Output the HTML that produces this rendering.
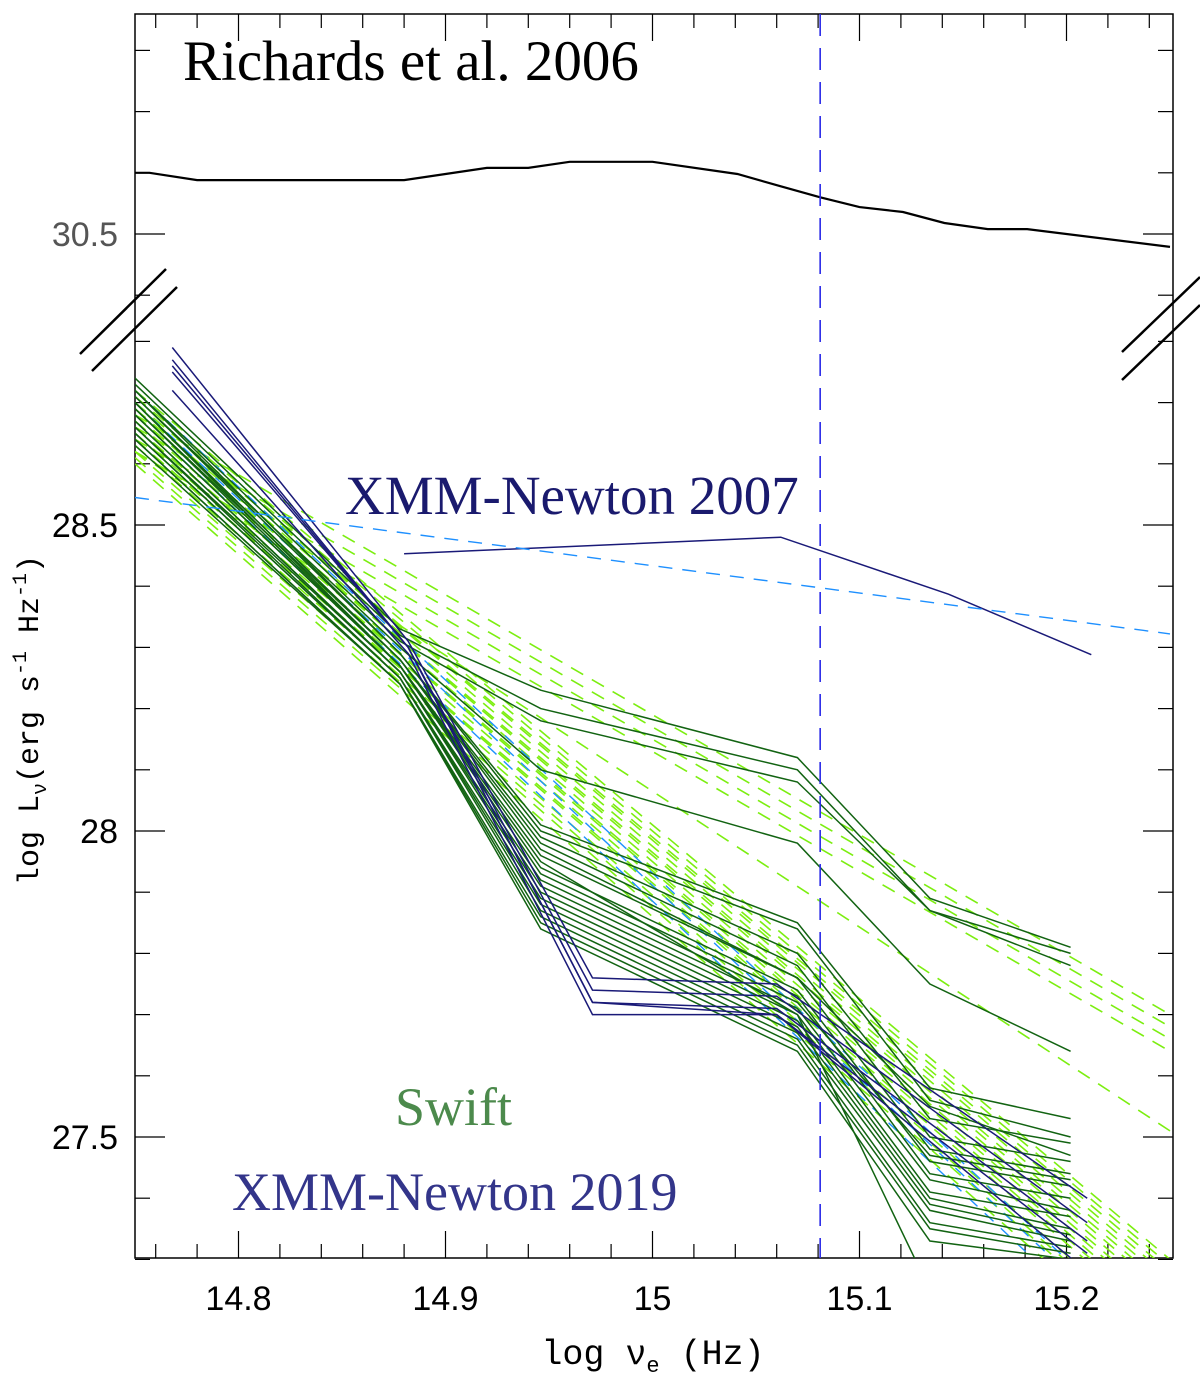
<!DOCTYPE html>
<html><head><meta charset="utf-8"><style>
body{margin:0;background:#fff;}
svg{display:block;}
</style></head><body>
<svg id="chart" width="1200" height="1385" xmlns="http://www.w3.org/2000/svg">
<defs><clipPath id="clipBot"><rect x="135" y="330" width="1038" height="928"/></clipPath>
<clipPath id="clipTop"><rect x="135" y="14" width="1038" height="285"/></clipPath></defs>
<g id="axes"></g>
<g id="series"></g>
<text x="183" y="80" font-family="Liberation Serif, serif" font-size="57" fill="#000">Richards et al. 2006</text>
<text x="345" y="514" font-family="Liberation Serif, serif" font-size="55" fill="#1a1a6e">XMM-Newton 2007</text>
<text x="395" y="1125" font-family="Liberation Serif, serif" font-size="54" fill="#4c8a4c">Swift</text>
<text x="232" y="1210" font-family="Liberation Serif, serif" font-size="54" fill="#33358a">XMM-Newton 2019</text>
<text x="653" y="1364" text-anchor="middle" font-family="Liberation Mono, monospace" font-size="35" fill="#000">log ν<tspan font-size="22" dy="8">e</tspan><tspan dy="-8"> (Hz)</tspan></text>
<text transform="translate(38,720) rotate(-90)" text-anchor="middle" font-family="Liberation Mono, monospace" font-size="30" fill="#000">log L<tspan font-size="20" dy="8">ν</tspan><tspan dy="-8">(erg s</tspan><tspan font-size="20" dy="-12">-1</tspan><tspan dy="12"> Hz</tspan><tspan font-size="20" dy="-12">-1</tspan><tspan dy="12">)</tspan></text>
</svg>
<script>
// ---- data ----
const xTicks=[14.8,14.9,15,15.1,15.2];
const xTickLabels=["14.8","14.9","15","15.1","15.2"];
const yTicksBot=[28.5,28,27.5];
const yTickLabelsBot=["28.5","28","27.5"];
const yTicksTop=[30.5];
const yTickLabelsTop=["30.5"];
const richX=[14.75,14.757,14.78,14.88,14.9,14.92,14.94,14.96,15.0,15.041,15.062,15.081,15.1,15.121,15.141,15.162,15.181,15.25];
const richY=[30.600,30.600,30.588,30.588,30.598,30.608,30.608,30.618,30.618,30.598,30.578,30.560,30.544,30.536,30.518,30.508,30.508,30.479];
const xmm07X=[14.88,15.062,15.143,15.212];
const xmm07Y=[28.453,28.480,28.387,28.288];
const refLineX=[14.75,15.25];
const refLineY=[28.545,28.322];
const vLineX=15.081;
const swiftX=[14.75,14.878,14.946,15.070,15.134,15.202];
const swiftY=[
[28.74,28.33,28.23,28.12,27.89,27.81],
[28.73,28.32,28.20,28.10,27.87,27.80],
[28.72,28.31,28.18,28.08,27.87,27.78],
[28.71,28.30,28.10,27.98,27.75,27.64],
[28.72,28.29,28.01,27.85,27.58,27.53],
[28.71,28.29,28.00,27.84,27.56,27.50],
[28.70,28.28,27.99,27.80,27.53,27.49],
[28.70,28.28,27.98,27.78,27.50,27.46],
[28.69,28.28,27.97,27.76,27.48,27.44],
[28.69,28.27,27.96,27.76,27.55,27.47],
[28.68,28.27,27.94,27.74,27.46,27.42],
[28.68,28.27,27.93,27.73,27.44,27.40],
[28.67,28.26,27.92,27.72,27.47,27.43],
[28.67,28.26,27.91,27.71,27.43,27.38],
[28.66,28.26,27.90,27.70,27.41,27.37],
[28.66,28.25,27.89,27.69,27.40,27.35],
[28.65,28.25,27.88,27.68,27.39,27.34],
[28.65,28.25,27.87,27.67,27.38,27.33],
[28.64,28.24,27.86,27.66,27.36,27.32],
[28.64,28.24,27.85,27.65,27.35,27.31],
[28.63,28.24,27.84,27.64,27.33,27.30],
[28.70,28.27,27.95,27.70,27.25,27.10]];
const xmm19X=[14.768,14.882,14.971,15.06,15.21];
const xmm19Y=[
[28.79,28.31,27.76,27.75,27.40],
[28.77,28.30,27.74,27.73,27.36],
[28.76,28.30,27.72,27.71,27.33],
[28.75,28.30,27.72,27.70,27.31],
[28.72,28.29,27.70,27.70,27.28]];
const modelX=[14.75,15.25];
const modelStart=[28.68,28.66,28.64,28.62,28.62,28.72,28.71,28.70,28.70,28.69,28.68,28.68,28.67,28.66,28.66,28.65,28.64,28.64,28.63,28.62,28.61,28.60];
const modelEnd=[27.70,27.68,27.66,27.64,27.51,27.30,27.29,27.28,27.27,27.26,27.25,27.24,27.23,27.22,27.21,27.20,27.19,27.18,27.16,27.15,27.14,27.12];
const blueStart=[28.72,28.70,28.68];
const blueEnd=[27.30,27.28,27.25];
const blueX=[14.75,15.2];

// ---- scales ----
const X=v=>135+(v-14.75)*2070;
const YB=v=>525-(v-28.5)*612;
const YT=v=>234-(v-30.5)*612;
const NS="http://www.w3.org/2000/svg";
const axes=document.getElementById('axes');
const ser=document.getElementById('series');
function mk(tag,parent){const e=document.createElementNS(NS,tag);parent.appendChild(e);return e;}
function poly(xs,ys,ys2,parent,color,w,dash){
  const e=mk('polyline',parent);
  e.setAttribute('points',xs.map((x,i)=>X(x).toFixed(1)+','+ys2(ys[i]).toFixed(1)).join(' '));
  e.setAttribute('fill','none');e.setAttribute('stroke',color);e.setAttribute('stroke-width',w);
  if(dash)e.setAttribute('stroke-dasharray',dash);
  return e;
}
const fr=mk('rect',axes);


fr.setAttribute('x',135);fr.setAttribute('y',14);fr.setAttribute('width',1038);fr.setAttribute('height',1244);
fr.setAttribute('fill','none');fr.setAttribute('stroke','#000');fr.setAttribute('stroke-width',1.5);
function line(x1,y1,x2,y2,w,name){const l=mk('line',axes);


l.setAttribute('x1',x1);l.setAttribute('y1',y1);l.setAttribute('x2',x2);l.setAttribute('y2',y2);l.setAttribute('stroke','#000');l.setAttribute('stroke-width',w);}
for(let v=14.76;v<=15.2401;v+=0.02){const x=X(v);const major=Math.abs(Math.round(v*10)-v*10)<1e-6;const L=major?27:14;
line(x,1258,x,1258-L,1.2,'x-tick');line(x,14,x,14+L,1.2,'x-tick-top');}
for(let k=0;k<16;k++){const v=27.3+k*0.1;const y=YB(v);if(y<335)continue;const major=Math.abs(v*2-Math.round(v*2))<1e-6;const L=major?30:15;
line(135,y,135+L,y,1.2,'y-tick');line(1173,y,1173-L,y,1.2,'y-tick-right');}
for(let k=0;k<5;k++){const v=30.4+k*0.1;const y=YT(v);const major=Math.abs(v*2-Math.round(v*2))<1e-6;const L=major?30:15;
line(135,y,135+L,y,1.2,'y-tick');line(1173,y,1173-L,y,1.2,'y-tick-right');}
line(80,354,166,269,2.5,'axis-break-mark');line(92,371,177,287,2.5,'axis-break-mark');
line(1122,352,1200,277,2.5,'axis-break-mark');line(1122,380,1200,305,2.5,'axis-break-mark');
function lab(txt,x,y,anchor,color,name){const t=mk('text',axes);


t.setAttribute('x',x);t.setAttribute('y',y);t.setAttribute('text-anchor',anchor);t.setAttribute('font-family','Liberation Sans, sans-serif');t.setAttribute('font-size',34);t.setAttribute('fill',color);t.textContent=txt;}
xTicks.forEach((v,i)=>lab(xTickLabels[i],X(v),1310,'middle','#000','x-tick-label'));
yTicksBot.forEach((v,i)=>lab(yTickLabelsBot[i],118,YB(v)+12,'end','#000','y-tick-label'));
yTicksTop.forEach((v,i)=>lab(yTickLabelsTop[i],118,YT(v)+12,'end','#555','y-tick-label'));

const gB=mk('g',ser);gB.setAttribute('clip-path','url(#clipBot)');


const gT=mk('g',ser);gT.setAttribute('clip-path','url(#clipTop)');


modelStart.forEach((s,i)=>{const e=poly(modelX,[s,modelEnd[i]],YB,gB,'#7cee10',1.6,'14,10');

});
blueStart.forEach((s,i)=>{const e=poly(blueX,[s,blueEnd[i]],YB,gB,'#1e90ff',1.4,'12,10');

});
swiftY.forEach(ys=>{const e=poly(swiftX,ys,YB,gB,'#126312',1.5);

});
xmm19Y.forEach(ys=>{const e=poly(xmm19X,ys,YB,gB,'#1a1a78',1.5);

});
{const e=poly(xmm07X,xmm07Y,YB,gB,'#1a1a78',1.5);

}
{const e=poly(refLineX,refLineY,YB,gB,'#1e90ff',1.4,'14,10');

}
{const e=poly(richX,richY,YT,gT,'#000',2.2);

}
{const e=mk('line',ser);


e.setAttribute('x1',X(vLineX));e.setAttribute('x2',X(vLineX));e.setAttribute('y1',14);e.setAttribute('y2',1258);
e.setAttribute('stroke','#2a2ae8');e.setAttribute('stroke-width',1.6);e.setAttribute('stroke-dasharray','22,12');}
</script>
</body></html>
